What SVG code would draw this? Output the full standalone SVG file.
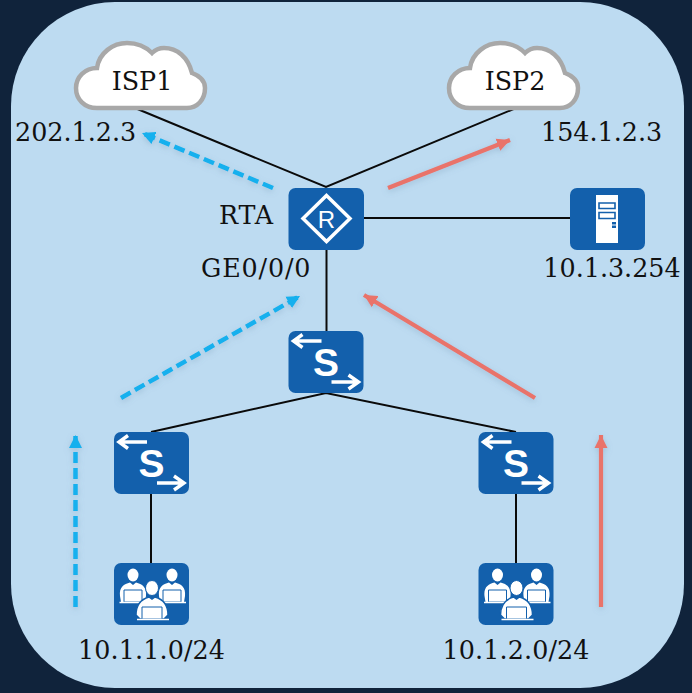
<svg xmlns="http://www.w3.org/2000/svg" xmlns:xlink="http://www.w3.org/1999/xlink" width="692" height="693" viewBox="0 0 692 693">
<style>
text{font-family:"DejaVu Serif",serif;font-size:25.4px;fill:#111}
.c{text-anchor:middle}
.link{stroke:#0a0a0a;stroke-width:2;fill:none}
.b{stroke:#12b0ee;stroke-width:4.5;fill:none;stroke-dasharray:11 5}
.r{stroke:#e9736a;stroke-width:4.2;fill:none}
.box{fill:#1360ac}
.w{stroke:#fff;fill:none;stroke-width:3.4}
.cloud{fill:#fff;stroke:#a8a8a8;stroke-width:4.5}
.desk{stroke:#fff;stroke-width:1.5}
</style>
<defs>
<filter id="soft" x="-20%" y="-20%" width="140%" height="140%"><feDropShadow dx="0" dy="2" stdDeviation="3" flood-color="#5a7f9e" flood-opacity="0.3"/></filter>
<marker id="ab" markerUnits="userSpaceOnUse" markerWidth="14" markerHeight="14" refX="13" refY="7" orient="auto"><path d="M0 0.500L13 7L0 13.500Z" fill="#12b0ee"/></marker>
<marker id="ar" markerUnits="userSpaceOnUse" markerWidth="14" markerHeight="14" refX="13" refY="7" orient="auto"><path d="M0 0.500L13 7L0 13.500Z" fill="#e9736a"/></marker>
<path id="cl" class="cloud" d="M22 67C9 67 1 58 1 47C1 36 10 27 22 27C24 12 38 2 52 2C62 2 71 6 77 12C81 8 84 7 89 7C102 7 113 16 117 32C125 35 130 40 130 47C130 59 122 67 112 67Z"/>
<g id="sw">
<rect class="box" width="75" height="62" rx="7"/>
<path class="w" d="M33 10H6M14 3.500L5 10L14 16.500M43 51H69M60 44L70 51L60 58"/>
<text x="37.500" y="45" style="font-family:'Liberation Sans',sans-serif;font-size:39px;font-weight:bold;fill:#fff" text-anchor="middle">S</text>
</g>
<g id="pb">
<ellipse cx="0" cy="0" rx="5.500" ry="6.500" fill="#fff"/>
<path d="M-13 21C-14 12 -9 9 -3 7.500L0 10L3 7.500C9 9 14 12 13 21L12 27H-12Z" fill="#fff"/>
<path d="M-9 15H9V27H-9Z" fill="#fff" stroke="#1360ac" stroke-width="1"/>
</g>
<g id="pf">
<path d="M-16 27C-16 15 -10 11 -3 9L0 11L3 9C10 11 16 15 16 27L12 31H-12Z" fill="#fff" stroke="#1360ac" stroke-width="1.500"/>
<ellipse cx="0" cy="0" rx="6.500" ry="7.500" fill="#fff" stroke="#1360ac" stroke-width="1"/>
<path d="M-10 19H10V31H-10Z" fill="#fff" stroke="#1360ac" stroke-width="1"/>
</g>
<g id="users">
<rect class="box" width="75" height="62" rx="7"/>
<use xlink:href="#pb" x="19" y="12"/>
<use xlink:href="#pb" x="58" y="12"/>
<path class="desk" d="M5.500 39.500H72"/>
<use xlink:href="#pf" x="38" y="25"/>
<path class="desk" d="M23 56.500H55"/>
</g>
</defs>
<rect width="692" height="693" fill="#10233b"/>
<rect x="11" y="2" width="673" height="686" rx="104" fill="#bddbf1"/>
<g id="connectors">
<path class="link" d="M135 108L326 187L516 108"/>
<path class="link" d="M326.500 250V331"/>
<path class="link" d="M364 218H570"/>
<path class="link" d="M151 432L326 393L516 432"/>
<path class="link" d="M151 494V563"/>
<path class="link" d="M516 494V563"/>
</g>
<g id="flows" filter="url(#soft)">
<path class="b" d="M273 188L142 133" marker-end="url(#ab)"/>
<path class="b" d="M121 398L300 296" marker-end="url(#ab)"/>
<path class="b" d="M75.500 607V435" marker-end="url(#ab)"/>
<path class="r" d="M388 188L510 140" marker-end="url(#ar)"/>
<path class="r" d="M535 398L364 295" marker-end="url(#ar)"/>
<path class="r" d="M601 607V435" marker-end="url(#ar)"/>
</g>
<g id="isp1"><use xlink:href="#cl" x="75" y="41"/><text class="c" x="142" y="90">ISP1</text></g>
<g id="isp2"><use xlink:href="#cl" x="448" y="41"/><text class="c" x="515" y="90">ISP2</text></g>
<text id="ip1" x="15" y="141">202.1.2.3</text>
<text id="ip2" x="541" y="141">154.1.2.3</text>
<g id="rta">
<rect class="box" x="288.500" y="188" width="75.500" height="62" rx="7"/>
<path d="M326.500 195.500L350 218.500L326.500 241.500L303 218.500Z" fill="none" stroke="#fff" stroke-width="3.500"/>
<text class="c" x="326.500" y="228" style="font-family:'Liberation Sans',sans-serif;font-size:24px;fill:#fff">R</text>
<text x="219" y="224" textLength="54">RTA</text>
<text x="201" y="277" textLength="109.500">GE0/0/0</text>
</g>
<g id="server">
<rect class="box" x="570" y="188" width="75" height="62" rx="7"/>
<rect x="596" y="195" width="22" height="48" fill="#fff"/>
<path d="M599 203H615V208.500H599ZM599 212.500H615V218.500H599Z" fill="#fff" stroke="#1360ac" stroke-width="1.600"/>
<path d="M612 222H616V224.500H612ZM612 225.500H616V228H612Z" fill="#1360ac"/>
<text class="c" x="612" y="277">10.1.3.254</text>
</g>
<g id="sw-core"><use xlink:href="#sw" x="288.500" y="331"/></g>
<g id="sw-left"><use xlink:href="#sw" x="114" y="432"/></g>
<g id="sw-right"><use xlink:href="#sw" x="478.500" y="432"/></g>
<g id="users-left"><use xlink:href="#users" x="114" y="563"/><text class="c" x="151.500" y="659" textLength="147">10.1.1.0/24</text></g>
<g id="users-right"><use xlink:href="#users" x="478.500" y="563"/><text class="c" x="516" y="659" textLength="147">10.1.2.0/24</text></g>
</svg>
